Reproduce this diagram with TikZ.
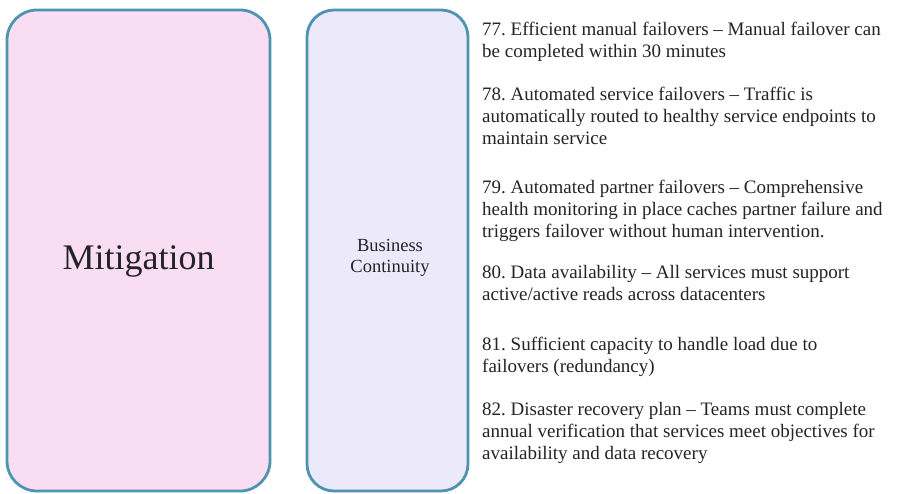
\documentclass[tikz,border=0pt]{standalone}
\usepackage{fontspec}
\setmainfont{Liberation Serif}
\frenchspacing
\definecolor{boxline}{RGB}{78,148,176}
\definecolor{mitfill}{RGB}{249,222,243}
\definecolor{bcfill}{RGB}{236,233,250}
\definecolor{txt}{RGB}{35,35,40}
\tikzset{
  panel/.style={draw=boxline, line width=2.8pt, rounded corners=30pt, inner sep=0pt},
  itemtext/.style={anchor=north west, inner sep=0pt, align=left, text=txt, font=\fontsize{19}{22}\selectfont}
}
\begin{document}
\begin{tikzpicture}[x=1pt,y=-1pt]
\useasboundingbox (0,0) rectangle (920,493);
\node[panel, fill=mitfill, minimum width=263, minimum height=481] (mitbox) at (138.5,250.5){};
\node[panel, fill=bcfill, minimum width=161, minimum height=481, rounded corners=27pt] (bcbox) at (387.5,250.5){};
\node[anchor=base, inner sep=0pt, text=txt, font=\fontsize{36}{40}\selectfont] (mit) at (138.5,269){Mitigation};
\node[anchor=north, inner sep=0pt, align=center, text=txt, font=\fontsize{18.5}{20.5}\selectfont] (bc) at (390,239.5){Business\\Continuity};
\node[itemtext] (item77) at (482,22){77. Efficient manual failovers – Manual failover can\\be completed within 30 minutes};
\node[itemtext] (item78) at (482,87){78. Automated service failovers – Traffic is\\automatically routed to healthy service endpoints to\\maintain service};
\node[itemtext] (item79) at (482,180){79. Automated partner failovers – Comprehensive\\health monitoring in place caches partner failure and\\triggers failover without human intervention.};
\node[itemtext] (item80) at (482,265){80. Data availability – All services must support\\active/active reads across datacenters};
\node[itemtext] (item81) at (482,337){81. Sufficient capacity to handle load due to\\failovers (redundancy)};
\node[itemtext] (item82) at (482,402){82. Disaster recovery plan – Teams must complete\\annual verification that services meet objectives for\\availability and data recovery};
\end{tikzpicture}
\end{document}
